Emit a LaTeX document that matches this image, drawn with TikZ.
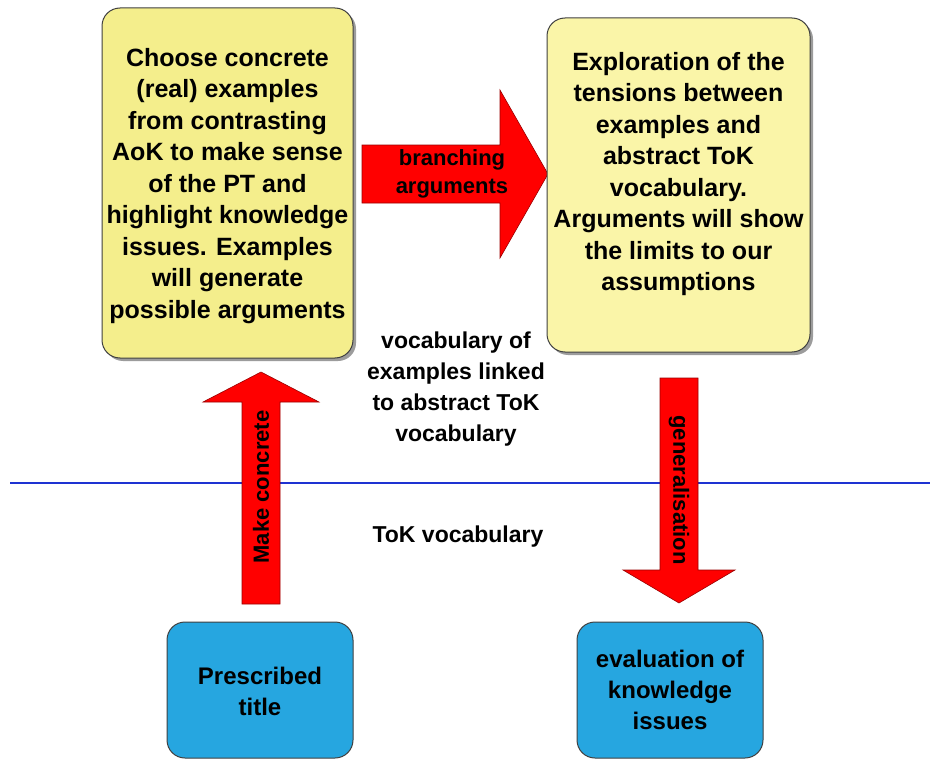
\documentclass[tikz,border=0pt]{standalone}
\usepackage{fontspec}
\setmainfont{Liberation Sans}
\usetikzlibrary{shadows}
\definecolor{yelA}{RGB}{244,238,140}
\definecolor{yelB}{RGB}{250,245,168}
\definecolor{bluebox}{RGB}{38,166,224}
\definecolor{hline}{RGB}{30,50,210}
\definecolor{arrred}{RGB}{255,0,0}
\tikzset{
  boxbase/.style={rounded corners=18pt, draw=black!75, line width=1pt, inner sep=0pt,
    drop shadow={shadow xshift=3pt, shadow yshift=-3pt, fill=black!55, opacity=.7}},
  ybox/.style={boxbase, fill=#1},
  bbox/.style={rounded corners=18pt, draw=black!75, line width=1pt, fill=bluebox, inner sep=0pt},
  bigtxt/.style={align=center, font=\fontsize{25}{31.5}\selectfont\bfseries},
  bluetxt/.style={align=center, font=\fontsize{24}{31}\selectfont\bfseries},
  midtxt/.style={align=center, font=\fontsize{23}{31}\selectfont\bfseries},
  arrtxt/.style={align=center, font=\fontsize{22}{28}\selectfont\bfseries},
  blockarrow/.style={fill=arrred, draw=red!60!black, line width=0.6pt, line join=miter},
}
\begin{document}
\begin{tikzpicture}[x=1pt, y=-1pt]
\fill[white] (0,0) rectangle (930,760);
\useasboundingbox (0,0) rectangle (930,760);

% horizontal line
\coordinate (lineL) at (10,483);
\coordinate (lineR) at (930,483);
\draw[hline, line width=2.5pt] (lineL) -- (lineR);

% block arrows
\draw[blockarrow] (362,145) -- (500,145) -- (500,90) -- (548,174) -- (500,258) -- (500,203) -- (362,203) -- cycle;
\node[arrtxt] (branch) at (452,174) {branching\\arguments};

\draw[blockarrow] (242,604) -- (242,402) -- (203,402) -- (261,372) -- (319,402) -- (280,402) -- (280,604) -- cycle;
\node[arrtxt, rotate=90] (make) at (261,487) {Make concrete};

\draw[blockarrow] (660,378) -- (698,378) -- (698,570) -- (735,570) -- (679,603) -- (623,570) -- (660,570) -- cycle;
\node[arrtxt, rotate=-90] (gen) at (679,490) {generalisation};

% yellow boxes
\node[ybox=yelA, minimum width=251pt, minimum height=350pt] (b1) at (227.5,183) {};
\node[bigtxt] (t1) at (227.5,186) {Choose concrete\\(real) examples\\from contrasting\\AoK to make sense\\of the PT and\\highlight knowledge\\issues. Examples\\will generate\\possible arguments};

\node[ybox=yelB, minimum width=263pt, minimum height=334pt] (b2) at (678.5,185) {};
\node[bigtxt] (t2) at (678.5,174) {Exploration of the\\tensions between\\examples and\\abstract ToK\\vocabulary.\\Arguments will show\\the limits to our\\assumptions};

% blue boxes
\node[bbox, minimum width=186pt, minimum height=136pt] (p1) at (260,690) {};
\node[bluetxt] (pt1) at (260,691) {Prescribed\\title};
\node[bbox, minimum width=186pt, minimum height=136pt] (p2) at (670,690) {};
\node[bluetxt] (pt2) at (670,690) {evaluation of\\knowledge\\issues};

% free texts
\node[midtxt] (voc) at (456,389) {vocabulary of\\examples linked\\to abstract ToK\\vocabulary};
\node[midtxt] (tok) at (458,537) {ToK vocabulary};
\end{tikzpicture}
\end{document}
